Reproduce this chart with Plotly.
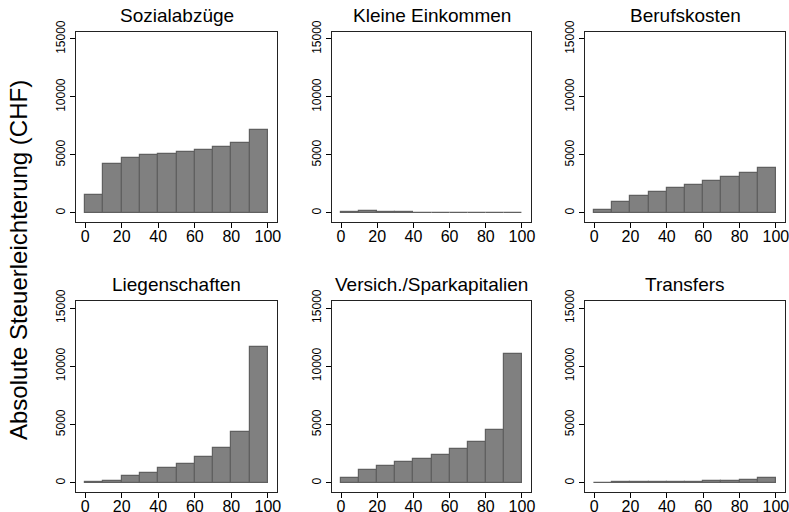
import plotly.graph_objects as go
from plotly.subplots import make_subplots

# decile bins (lower edges 0..90, width 10)
bin_mid = [5, 15, 25, 35, 45, 55, 65, 75, 85, 95]

titles = ["Sozialabzüge", "Kleine Einkommen", "Berufskosten",
          "Liegenschaften", "Versich./Sparkapitalien", "Transfers"]

sozialabzuege = [1580, 4220, 4710, 4990, 5100, 5290, 5460, 5720, 6030, 7130]
kleine_einkommen = [40, 200, 110, 40, 20, 10, 10, 5, 5, 5]
berufskosten = [290, 980, 1470, 1810, 2130, 2410, 2730, 3070, 3450, 3880]
liegenschaften = [115, 200, 550, 860, 1290, 1640, 2180, 3020, 4400, 11640]
versicherungen = [430, 1120, 1470, 1780, 2070, 2410, 2870, 3480, 4570, 11060]
transfers = [-30, 40, 60, 70, 80, 110, 140, 170, 250, 440]

series = [sozialabzuege, kleine_einkommen, berufskosten,
          liegenschaften, versicherungen, transfers]

x_ticks = [0, 20, 40, 60, 80, 100]
y_ticks = [0, 5000, 10000, 15000]
y_labels = ["0", "5000", "10000", "15000"]

W, H = 789, 512
# panel boxes in pixels (left, right) / (top, bottom)
cols_px = [(76, 277), (332, 531), (585, 785)]
rows_px = [(32, 222), (301, 492)]


def px_x(v):
    return v / W


def px_y(v):
    return 1 - v / H


fig = make_subplots(rows=2, cols=3)

for i, vals in enumerate(series):
    r, c = i // 3 + 1, i % 3 + 1
    fig.add_trace(go.Bar(
        x=bin_mid,
        y=vals,
        width=10,
        marker=dict(color="#808080", line=dict(color="#606060", width=1.2)),
        showlegend=False,
    ), row=r, col=c)

    x0, x1 = cols_px[c - 1]
    y0, y1 = rows_px[r - 1]
    fig.update_xaxes(
        domain=[px_x(x0), px_x(x1)], range=[-5, 105], automargin=False,
        tickvals=x_ticks, ticks="outside", ticklen=5, tickcolor="#000",
        ticklabeloverflow="allow", ticklabelstandoff=-5,
        showline=True, linecolor="#222", linewidth=1.3, mirror=True,
        showgrid=False, zeroline=False,
        tickfont=dict(size=16, color="#000"),
        row=r, col=c)
    fig.update_yaxes(
        domain=[px_y(y1), px_y(y0)], range=[-780, 15600], automargin=False,
        tickvals=y_ticks, ticktext=y_labels, ticks="outside", ticklen=5,
        tickcolor="#000", tickangle=-90, ticklabeloverflow="allow",
        showline=True, linecolor="#222", linewidth=1.3, mirror=True,
        showgrid=False, zeroline=False,
        tickfont=dict(size=12, color="#000"),
        row=r, col=c)

    fig.add_annotation(
        text=titles[i], x=px_x((x0 + x1) / 2), y=px_y(y0 - 4),
        xref="paper", yref="paper", xanchor="center", yanchor="bottom",
        showarrow=False, font=dict(size=19, color="#000"))

fig.add_annotation(
    text="Absolute Steuerleichterung (CHF)", x=px_x(18), y=px_y(260),
    xref="paper", yref="paper", xanchor="center", yanchor="middle",
    textangle=-90, showarrow=False, font=dict(size=24, color="#000"))

fig.update_layout(
    width=W, height=H,
    margin=dict(l=0, r=0, t=0, b=0),
    paper_bgcolor="white",
    plot_bgcolor="white",
    font=dict(family="Arial, Liberation Sans", color="#000"),
    bargap=0,
)

# drop the browser's default body margin so the figure fills the window
fig.write_html("out.html",
               config={"displayModeBar": False},
               post_script="document.body.style.margin='0';"
                           "document.body.style.overflow='hidden';")
